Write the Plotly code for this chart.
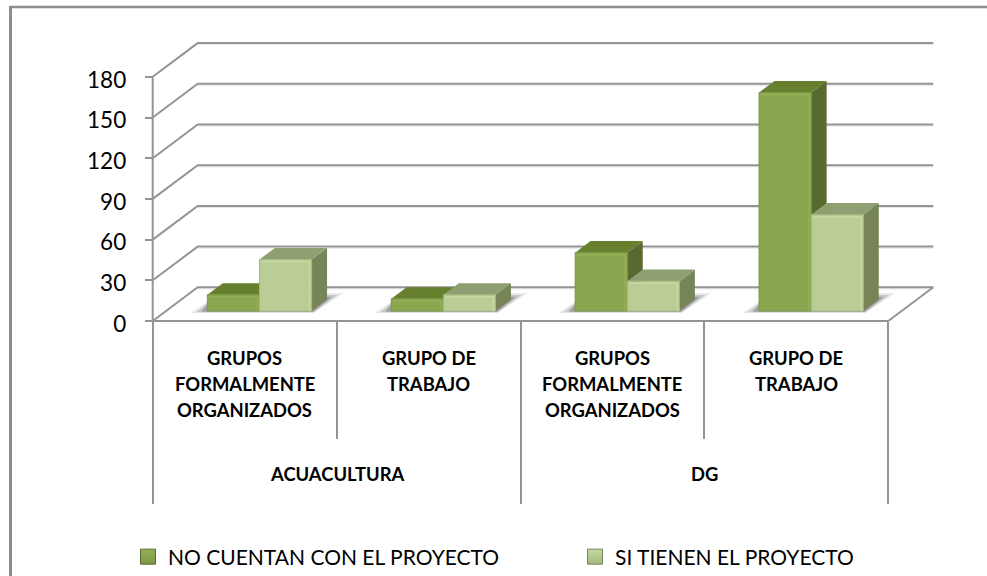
import plotly.graph_objects as go

# ---------- data ----------
groups = ["ACUACULTURA", "DG"]
subgroups = [["GRUPOS", "FORMALMENTE", "ORGANIZADOS"], ["GRUPO DE", "TRABAJO"],
             ["GRUPOS", "FORMALMENTE", "ORGANIZADOS"], ["GRUPO DE", "TRABAJO"]]
no_cuentan = [12, 9, 43, 161]
si_tienen = [38, 12, 22, 71]
series_names = ["NO CUENTAN CON EL PROYECTO", "SI TIENEN EL PROYECTO"]
y_ticks = [0, 30, 60, 90, 120, 150, 180]

# ---------- page geometry ----------
W, H = 987, 576
X0, X1 = 152.7, 888.3      # front floor edge, pixels
Y0, Y180 = 321.0, 76.8     # value 0 and value 180, pixels
PX_X = (X1 - X0) / 4
PX_Y = (Y0 - Y180) / 180
DX = 45 / PX_X             # wall depth in axis units
DY = 33.7 / PX_Y
D_FRONT, D_BACK = 0.297, 0.64   # bar depth span, fraction of wall depth
GAP, BAR_W = 0.2245, 0.2835

GRID = "#949494"
FACE = [dict(front="#8AA64F", top="#66802F", side="#586A2E", rim="#7C9845", hi="#93AF58"),
        dict(front="#B9CD94", top="#8E9F72", side="#768458", rim="#A3B77F", hi="#C6DAA0")]


def pt(x, v, d):
    """Oblique projection of (category position, value, depth) to axis units."""
    return x + d * DX, v + d * DY


def poly(points):
    xs = [p[0] for p in points] + [points[0][0], None]
    ys = [p[1] for p in points] + [points[0][1], None]
    return xs, ys


def join(polys):
    xs, ys = [], []
    for a, b in polys:
        xs += a
        ys += b
    return xs, ys


fig = go.Figure()


def add_line(xs, ys, color=GRID, width=2):
    fig.add_trace(go.Scatter(x=xs, y=ys, mode="lines", line=dict(color=color, width=width),
                             hoverinfo="skip", showlegend=False))


def add_fill(polys, color, name=None, line=None):
    xs, ys = join(polys)
    fig.add_trace(go.Scatter(x=xs, y=ys, mode="lines", fill="toself", fillcolor=color,
                             line=dict(color=line or "rgba(0,0,0,0)", width=1),
                             hoverinfo="skip", showlegend=False, name=name))


# walls: back gridlines and side diagonals, each with its faint shadow
for v in y_ticks:
    bx0, by = pt(0, v, 1)
    bx1, _ = pt(4, v, 1)
    add_line([bx0, bx1], [by - 1.6 / PX_Y, by - 1.6 / PX_Y], color="#E4E4E4", width=1)
for v in y_ticks:
    bx0, by = pt(0, v, 1)
    bx1, _ = pt(4, v, 1)
    add_line([0, bx0, bx1], [v, by, by])
rx, ry = pt(4, 0, 1)
add_line([4, rx], [0, ry])
# axis lines
add_line([0, 0], [0, 180])
add_line([0, 4], [0, 0])

# floor shadows, layered to imitate a soft blur
for g in range(4):
    L, _ = pt(g + GAP, 0, D_FRONT)
    R, _ = pt(g + GAP + 2 * BAR_W, 0, D_FRONT)
    _, base = pt(0, 0, D_FRONT)
    for grow, col in [(1.0, "rgba(170,170,170,0.25)"), (0.68, "rgba(140,140,140,0.35)"), (0.36, "rgba(110,110,110,0.45)")]:
        px = 1 / PX_X
        py = 1 / PX_Y
        add_fill([poly([(L - 17 * grow * px, base - 2 * grow * py),
                        (R + 2 * px, base - 2 * grow * py),
                        (R + (14 + 18 * grow) * px, base + (12 + 6 * grow) * py),
                        (R + 14 * px, base + (12 + 6 * grow) * py),
                        (L + 5 * px, base + 12 * py)])], col)

# bars
for s, values in enumerate([no_cuentan, si_tienen]):
    tops, sides, fronts = [], [], []
    hx, hy = [], []
    for g, v in enumerate(values):
        a = g + GAP + s * BAR_W
        b = a + BAR_W
        sides.append(poly([pt(b, 0, D_FRONT), pt(b, 0, D_BACK), pt(b, v, D_BACK), pt(b, v, D_FRONT)]))
        tops.append(poly([pt(a, v, D_FRONT), pt(b, v, D_FRONT), pt(b, v, D_BACK), pt(a, v, D_BACK)]))
        fronts.append(poly([pt(a, 0, D_FRONT), pt(b, 0, D_FRONT), pt(b, v, D_FRONT), pt(a, v, D_FRONT)]))
        p0 = pt(a, v, D_FRONT)
        p1 = pt(b, v, D_FRONT)
        p2 = pt(b, 0, D_FRONT)
        inset_x, inset_y = 2 / PX_X, 2 / PX_Y
        hx += [p0[0] + inset_x, p1[0] - inset_x, p2[0] - inset_x, None]
        hy += [p0[1] - inset_y, p1[1] - inset_y, p2[1], None]
    add_fill(sides, FACE[s]["side"])
    add_fill(tops, FACE[s]["top"])
    add_fill(fronts, FACE[s]["front"], name=series_names[s], line=FACE[s]["rim"])
    add_line(hx, hy, color=FACE[s]["hi"], width=1.5)

# legend entries
for s, name in enumerate(series_names):
    fig.add_trace(go.Scatter(x=[None], y=[None], mode="markers", name=name,
                             legend="legend" if s == 0 else "legend2",
                             marker=dict(symbol="square", size=15, color=FACE[s]["hi"],
                                         gradient=dict(type="vertical", color=FACE[s]["rim"]),
                                         line=dict(color=FACE[s]["side"], width=1))))

# category labels
LABEL_FONT = dict(family="Lato", size=18.4, color="#000000")
LINE_H = 26 / PX_Y
for i, lines in enumerate(subgroups):
    for j, text in enumerate(lines):
        fig.add_annotation(x=i + 0.5, y=-(37 / PX_Y) - j * LINE_H, text=f"<b>{text}</b>", showarrow=False,
                           font=LABEL_FONT, xanchor="center", yanchor="middle")
for i, text in enumerate(groups):
    fig.add_annotation(x=2 * i + 1, y=-(153 / PX_Y), text=f"<b>{text}</b>", showarrow=False,
                       font=LABEL_FONT, xanchor="center", yanchor="middle")

# frame: only top and left edges are visible in the crop
fig.add_shape(type="line", xref="paper", yref="paper", x0=9.5 / W, x1=1, y0=1 - 7 / H, y1=1 - 7 / H,
              line=dict(color="#8C8C8C", width=2.5))
fig.add_shape(type="line", xref="paper", yref="paper", x0=10.5 / W, x1=10.5 / W, y0=0, y1=1 - 6 / H,
              line=dict(color="#8C8C8C", width=3))

AX = "#949494"
LEG_FONT = dict(family="Lato", size=21, color="#000000")
fig.update_layout(
    width=W, height=H, autosize=False,
    margin=dict(l=0, r=0, t=0, b=0, autoexpand=False), paper_bgcolor="white", plot_bgcolor="white",
    showlegend=True,
    legend=dict(x=128 / W, y=1 - 557 / H, xanchor="left", yanchor="middle", font=LEG_FONT,
                bgcolor="rgba(0,0,0,0)", itemclick=False, itemdoubleclick=False),
    legend2=dict(x=575 / W, y=1 - 557 / H, xanchor="left", yanchor="middle", font=LEG_FONT,
                 bgcolor="rgba(0,0,0,0)", itemclick=False, itemdoubleclick=False),
    xaxis=dict(domain=[0, 1], range=[-X0 / PX_X, (W - X0) / PX_X], anchor="free", position=1 - Y0 / H,
               showgrid=False, zeroline=False, showline=False,
               tickvals=[0, 2, 4], ticks="outside", ticklen=182, tickwidth=2,
               tickcolor=AX, showticklabels=False,
               minor=dict(tickvals=[1, 3], ticks="outside", ticklen=117, tickwidth=2, tickcolor=AX)),
    yaxis=dict(domain=[0, 1], range=[(Y0 - H) / PX_Y, Y0 / PX_Y], anchor="free", position=X0 / W,
               showgrid=False, zeroline=False, showline=False,
               tickvals=y_ticks, ticks="outside", ticklen=8, tickwidth=2, tickcolor=AX,
               ticklabelstandoff=14, ticklabelshift=3,
               tickfont=dict(family="Lato", size=22.5, color="#000000")),
)

fig.write_html("out.html", post_script="document.body.style.margin='0';",
               config={"displayModeBar": False})
